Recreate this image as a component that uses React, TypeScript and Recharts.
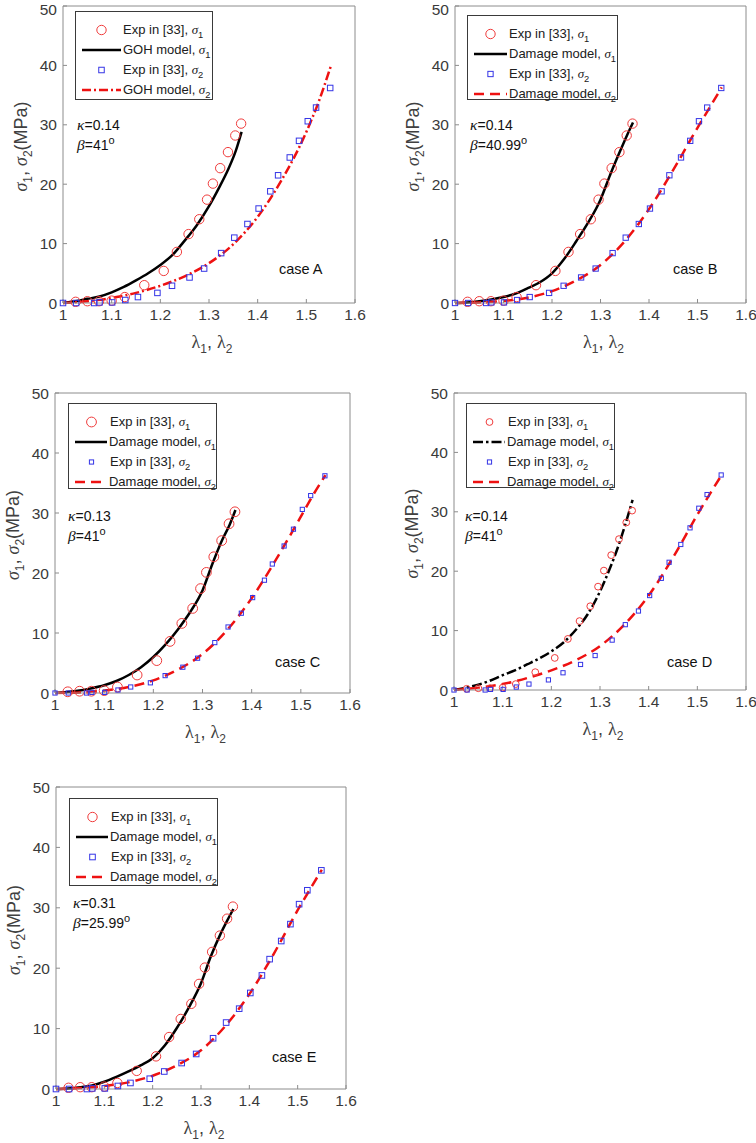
import React from 'react'
import { ComposedChart, Line, Scatter, XAxis, YAxis, Legend } from 'recharts'

const FONT = '"Liberation Sans", Arial, sans-serif'
const GREEK = '"Liberation Serif", "DejaVu Serif", serif'

const X_TICKS = [1, 1.1, 1.2, 1.3, 1.4, 1.5, 1.6]
const Y_TICKS = [0, 10, 20, 30, 40, 50]

// experimental points, same in every panel
const EXP1_L = [1.026, 1.05, 1.074, 1.1, 1.127, 1.167, 1.207, 1.234, 1.258, 1.28, 1.296, 1.308, 1.323, 1.339, 1.354, 1.366]
const EXP1_S = [0.2, 0.3, 0.3, 0.4, 1.0, 3.0, 5.4, 8.6, 11.6, 14.1, 17.4, 20.1, 22.7, 25.4, 28.2, 30.2]
const EXP2_L = [1.0, 1.027, 1.064, 1.075, 1.101, 1.128, 1.154, 1.194, 1.224, 1.26, 1.29, 1.325, 1.352, 1.379, 1.402, 1.426, 1.442, 1.466, 1.485, 1.503, 1.52, 1.549]
const EXP2_S = [0, 0, 0, 0.1, 0.1, 0.5, 1.0, 1.7, 2.9, 4.3, 5.8, 8.4, 11.0, 13.3, 15.9, 18.8, 21.5, 24.5, 27.3, 30.6, 32.9, 36.2]

// model curves
const MOD1_L = [1, 1.025, 1.05, 1.075, 1.1, 1.125, 1.15, 1.175, 1.2, 1.225, 1.25, 1.275, 1.3, 1.32, 1.34, 1.355, 1.367]
const MOD2_L = [1, 1.05, 1.1, 1.15, 1.2, 1.25, 1.3, 1.35, 1.4, 1.45, 1.5, 1.525, 1.55]

const A_S1 = [0, 0.3, 0.7, 1.1, 1.8, 2.7, 3.8, 5.0, 6.4, 8.1, 10.5, 13.1, 16.3, 19.3, 22.6, 25.6, 28.8]
const A_S2 = [0, 0.3, 0.85, 1.7, 2.9, 4.5, 6.7, 9.9, 14.5, 20.8, 28.8, 33.8, 39.8]
const B_S1 = [0, 0.1, 0.3, 0.6, 1.0, 1.6, 2.5, 3.5, 5.0, 7.4, 10.4, 13.6, 17.4, 21.6, 25.5, 28.3, 30.4]
const B_S2 = [0, 0.1, 0.35, 0.9, 2.0, 3.8, 6.4, 10.4, 15.8, 22.4, 29.5, 32.9, 36.3]
const C_S1 = [0, 0.15, 0.4, 0.8, 1.3, 2.0, 3.0, 4.3, 6.0, 8.1, 10.6, 13.5, 17.1, 21.5, 25.5, 28.0, 30.5]
const C_S2 = [0, 0.1, 0.4, 1.0, 2.1, 3.9, 6.5, 10.5, 15.8, 22.3, 29.4, 33.0, 36.3]
const D_S1 = [0, 0.4, 0.9, 1.6, 2.5, 3.3, 4.3, 5.3, 6.5, 8.0, 10.1, 12.8, 16.6, 20.4, 24.8, 28.7, 32.0]
const D_S2 = [0, 0.4, 1.0, 2.0, 3.3, 5.0, 7.4, 11.0, 15.9, 22.3, 29.5, 32.9, 36.2]
const E_S1 = [0, 0.1, 0.3, 0.6, 1.2, 2.0, 2.9, 3.9, 5.1, 7.2, 10.1, 13.5, 17.5, 21.9, 25.6, 28.0, 29.8]
const E_S2 = [0, 0.15, 0.5, 1.1, 2.2, 3.9, 6.4, 10.4, 15.7, 22.3, 29.6, 33.0, 36.3]

const pts = (xs: number[], ys: number[]) => xs.map((x, i) => ({ x, y: ys[i] }))

const RED = '#f03c3c'
const BLUE = '#3434e6'
const LINE_RED = '#ee1111'
const AXIS = '#8c8c8c'
const TICK_TXT = '#3a3a3a'

type PanelCfg = {
  x: number; y: number; h: number
  plot: { l: number; r: number; t: number; b: number }
  model: string
  s1: number[]; s2: number[]
  dash1?: string; dash2: string
  cr: number; sq: number
  legend: { x: number; y: number; w: number; h: number; sample: number }
  kappa: string; beta: string; note: string
  ann: { x: number; y: number; cx: number; cy: number }
}

const PANELS: PanelCfg[] = [
  {
    x: 0, y: 0, h: 360, plot: { l: 63, r: 355, t: 6, b: 303 },
    model: 'GOH model', s1: A_S1, s2: A_S2, dash2: '9 3 2 3', cr: 4.7, sq: 5.5,
    legend: { x: 75, y: 11, w: 138, h: 89, sample: 39 },
    kappa: '0.14', beta: '41', note: 'case A', ann: { x: 77, y: 125, cx: 279, cy: 270 },
  },
  {
    x: 378, y: 0, h: 360, plot: { l: 77, r: 368, t: 6, b: 303 },
    model: 'Damage model', s1: B_S1, s2: B_S2, dash2: '10 6', cr: 4.7, sq: 5.3,
    legend: { x: 89, y: 15, w: 151, h: 85, sample: 33 },
    kappa: '0.14', beta: '40.99', note: 'case B', ann: { x: 92, y: 125, cx: 295, cy: 270 },
  },
  {
    x: 0, y: 380, h: 370, plot: { l: 55, r: 350, t: 13, b: 313 },
    model: 'Damage model', s1: C_S1, s2: C_S2, dash2: '10 6', cr: 4.9, sq: 4.2,
    legend: { x: 68, y: 23, w: 149, h: 86, sample: 33 },
    kappa: '0.13', beta: '41', note: 'case C', ann: { x: 68, y: 136, cx: 275, cy: 283 },
  },
  {
    x: 378, y: 380, h: 370, plot: { l: 76, r: 368, t: 13, b: 310 },
    model: 'Damage model', s1: D_S1, s2: D_S2, dash1: '10 3 2.5 3', dash2: '10 6', cr: 3.4, sq: 4.2,
    legend: { x: 88, y: 23, w: 149, h: 85, sample: 33 },
    kappa: '0.14', beta: '41', note: 'case D', ann: { x: 87, y: 136, cx: 289, cy: 283 },
  },
  {
    x: 0, y: 770, h: 373, plot: { l: 56, r: 346, t: 17, b: 319 },
    model: 'Damage model', s1: E_S1, s2: E_S2, dash2: '10 6', cr: 4.7, sq: 5.6,
    legend: { x: 69, y: 28, w: 149, h: 88, sample: 33 },
    kappa: '0.31', beta: '25.99', note: 'case E', ann: { x: 73, y: 133, cx: 272, cy: 288 },
  },
]

function Sub({ ch, sub, size }: { ch: string; sub: string; size: number }) {
  return (
    <>
      <span style={{ fontFamily: GREEK, fontStyle: 'italic' }}>{ch}</span>
      <span style={{ fontSize: size * 0.72, position: 'relative', top: size * 0.32 }}>{sub}</span>
    </>
  )
}

function Sample({ kind, w, cfg }: { kind: number; w: number; cfg: PanelCfg }) {
  const h = 14
  const c = (w + 6) / 2 + 3
  if (kind === 0) return <svg width={w + 6} height={h}><circle cx={c} cy={7} r={cfg.cr} fill="none" stroke={RED} strokeWidth={1} /></svg>
  if (kind === 2) return <svg width={w + 6} height={h}><rect x={c - cfg.sq / 2} y={7 - cfg.sq / 2} width={cfg.sq} height={cfg.sq} fill="none" stroke={BLUE} strokeWidth={1} /></svg>
  const dash = kind === 1 ? cfg.dash1 : cfg.dash2
  const col = kind === 1 ? '#000' : LINE_RED
  return <svg width={w + 6} height={h}><line x1={6} x2={w + 6} y1={7} y2={7} stroke={col} strokeWidth={2.5} strokeDasharray={dash} /></svg>
}

function LegendBox({ cfg }: { cfg: PanelCfg }) {
  const labels = [
    ['Exp in [33], ', '1'],
    [cfg.model + ', ', '1'],
    ['Exp in [33], ', '2'],
    [cfg.model + ', ', '2'],
  ]
  return (
    <div style={{
      width: cfg.legend.w, height: cfg.legend.h, boxSizing: 'border-box', border: '1px solid #3a3a3a',
      background: '#fff', fontFamily: FONT, fontSize: 13, color: '#202020', padding: '8px 0 0 0',
    }}>
      {labels.map((lb, i) => (
        <div key={i} style={{ display: 'flex', alignItems: 'center', height: 20, whiteSpace: 'nowrap' }}>
          <Sample kind={i} w={cfg.legend.sample} cfg={cfg} />
          <span style={{ marginLeft: 2 }}>{lb[0]}<Sub ch="σ" sub={lb[1]} size={13} /></span>
        </div>
      ))}
    </div>
  )
}

function YLabel({ x, y }: { x: number; y: number }) {
  return (
    <text x={x} y={y} transform={`rotate(-90 ${x} ${y})`} textAnchor="middle" fontSize={18} fill="#404040" fontFamily={FONT}>
      <tspan fontFamily={GREEK} fontStyle="italic">σ</tspan>
      <tspan fontSize={12} dy={5}>1</tspan>
      <tspan dy={-5}>, </tspan>
      <tspan fontFamily={GREEK} fontStyle="italic">σ</tspan>
      <tspan fontSize={12} dy={5}>2</tspan>
      <tspan dy={-5}>(MPa)</tspan>
    </text>
  )
}

function XLabel({ x, y }: { x: number; y: number }) {
  return (
    <text x={x} y={y} textAnchor="middle" fontSize={18} fill="#404040" fontFamily={FONT}>
      <tspan fontFamily={GREEK}>λ</tspan>
      <tspan fontSize={12} dy={5}>1</tspan>
      <tspan dy={-5}>, </tspan>
      <tspan fontFamily={GREEK}>λ</tspan>
      <tspan fontSize={12} dy={5}>2</tspan>
    </text>
  )
}

function Panel({ cfg }: { cfg: PanelCfg }) {
  const W = 378
  const { l, r, t, b } = cfg.plot
  const yw = 40
  const xh = 40
  const circle = (p: any) => <circle cx={p.cx} cy={p.cy} r={cfg.cr} fill="none" stroke={RED} strokeWidth={1} />
  const square = (p: any) => (
    <rect x={p.cx - cfg.sq / 2} y={p.cy - cfg.sq / 2} width={cfg.sq} height={cfg.sq} fill="none" stroke={BLUE} strokeWidth={1} />
  )
  const txt = { fontFamily: FONT, color: '#111', position: 'absolute' as const, whiteSpace: 'nowrap' as const }
  return (
    <div style={{ position: 'absolute', left: cfg.x, top: cfg.y, width: W, height: cfg.h }}>
      <ComposedChart
        width={W}
        height={cfg.h}
        margin={{ top: t - 1, right: W - r - 1, left: l - yw, bottom: cfg.h - b - xh }}
      >
        <XAxis
          type="number" dataKey="x" domain={[1, 1.6]} ticks={X_TICKS} height={xh}
          tickFormatter={(v: number) => (v === 1 ? '1' : v.toFixed(1))}
          tick={{ fontSize: 15.5, fill: TICK_TXT, fontFamily: FONT }}
          tickSize={-4} tickMargin={10} stroke={AXIS} tickLine={{ stroke: AXIS }}
          label={{ content: () => <XLabel x={(l + r) / 2 + 3} y={b + 45} /> }}
        />
        <XAxis
          xAxisId="top" orientation="top" type="number" domain={[1, 1.6]} ticks={X_TICKS} height={1}
          tick={false} tickSize={-4} stroke={AXIS} tickLine={{ stroke: AXIS }}
        />
        <YAxis
          type="number" domain={[0, 50]} ticks={Y_TICKS} width={yw}
          tick={{ fontSize: 15.5, fill: TICK_TXT, fontFamily: FONT }}
          tickSize={-4} tickMargin={10} stroke={AXIS} tickLine={{ stroke: AXIS }}
          label={{ content: () => <YLabel x={l - 36} y={(t + b) / 2 - 8} /> }}
        />
        <YAxis
          yAxisId="right" orientation="right" type="number" domain={[0, 50]} ticks={Y_TICKS} width={1}
          tick={false} tickSize={-4} stroke={AXIS} tickLine={{ stroke: AXIS }}
        />
        <Legend
          layout="vertical" align="center" verticalAlign="middle"
          wrapperStyle={{ left: cfg.legend.x, top: cfg.legend.y, width: cfg.legend.w, height: cfg.legend.h }}
          content={() => <LegendBox cfg={cfg} />}
        />
        <Scatter name="exp1" data={pts(EXP1_L, EXP1_S)} dataKey="y" shape={circle} isAnimationActive={false} />
        <Line
          name="model1" data={pts(MOD1_L, cfg.s1)} dataKey="y" type="monotone" stroke="#000" strokeWidth={2.5}
          strokeDasharray={cfg.dash1} dot={false} isAnimationActive={false}
        />
        <Scatter name="exp2" data={pts(EXP2_L, EXP2_S)} dataKey="y" shape={square} isAnimationActive={false} />
        <Line
          name="model2" data={pts(MOD2_L, cfg.s2)} dataKey="y" type="monotone" stroke={LINE_RED} strokeWidth={2.5}
          strokeDasharray={cfg.dash2} dot={false} isAnimationActive={false}
        />
      </ComposedChart>
      <div style={{ ...txt, left: cfg.ann.x, top: cfg.ann.y - 9, fontSize: 14 }}>
        <span style={{ fontFamily: GREEK, fontStyle: 'italic', fontSize: 15.5 }}>κ</span>={cfg.kappa}
      </div>
      <div style={{ ...txt, left: cfg.ann.x, top: cfg.ann.y + 11, fontSize: 14 }}>
        <span style={{ fontFamily: GREEK, fontStyle: 'italic', fontSize: 15.5 }}>β</span>={cfg.beta}
        <span style={{ fontSize: 11, position: 'relative', top: -6 }}>o</span>
      </div>
      <div style={{ ...txt, left: cfg.ann.cx, top: cfg.ann.cy - 9, fontSize: 14.5 }}>{cfg.note}</div>
    </div>
  )
}

export default function App() {
  return (
    <div style={{ position: 'absolute', left: 0, top: 0, width: 756, height: 1143, background: '#fff', overflow: 'hidden' }}>
      {PANELS.map((p, i) => <Panel key={i} cfg={p} />)}
    </div>
  )
}
